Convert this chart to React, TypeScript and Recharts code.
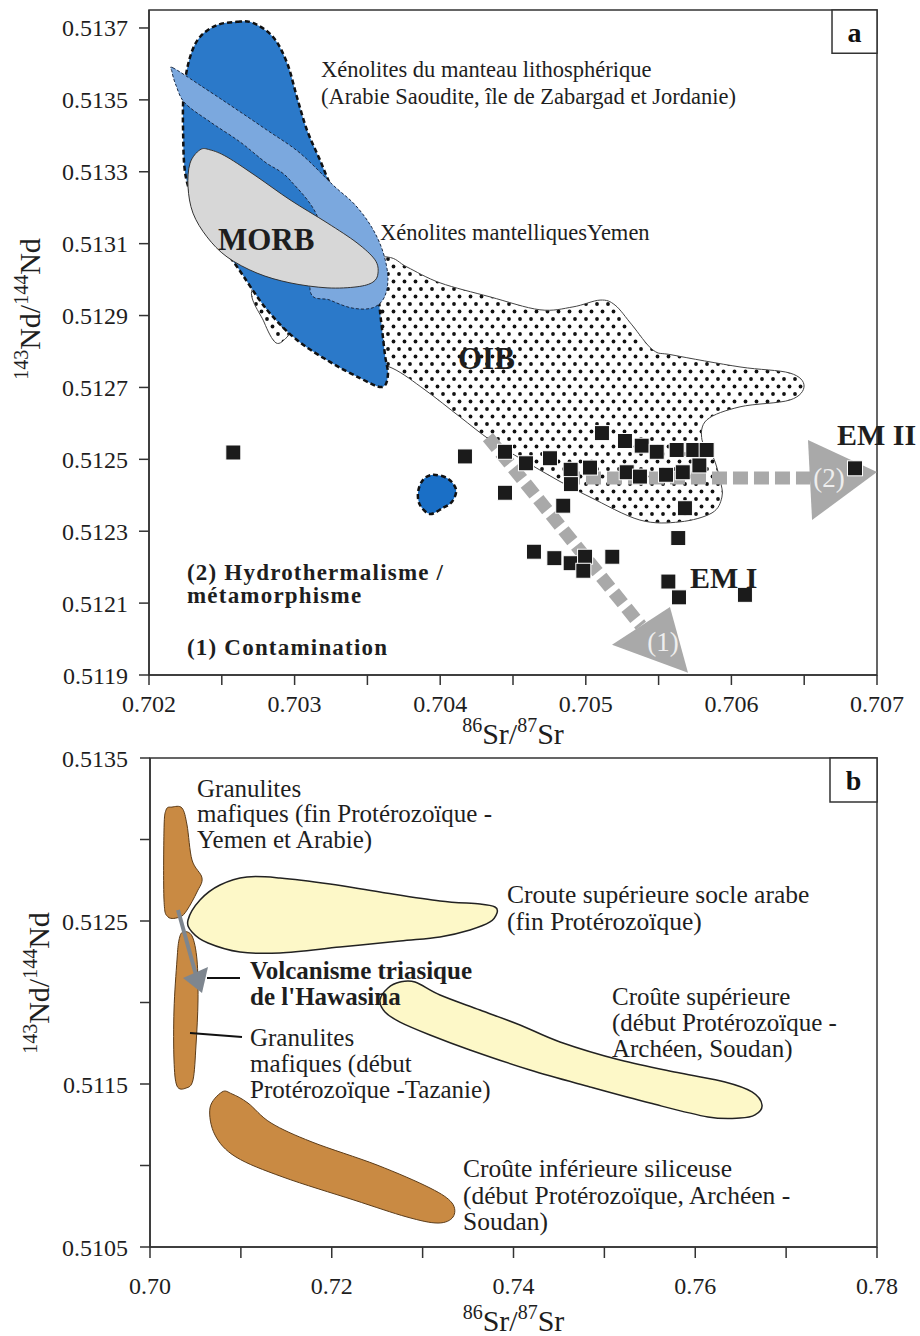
import React from 'react';
import { ScatterChart, Scatter, XAxis, YAxis, ReferenceArea, Label } from 'recharts';

const FONT = '"Liberation Serif", "Times New Roman", Times, serif';

// ================= Panel a =================
const aXTicks = [0.702, 0.7025, 0.703, 0.7035, 0.704, 0.7045, 0.705, 0.7055, 0.706, 0.7065, 0.707];
const aYTicks = [0.5119, 0.5121, 0.5123, 0.5125, 0.5127, 0.5129, 0.5131, 0.5133, 0.5135, 0.5137];
const aXDomain = [0.702, 0.707];
const aYDomain = [0.5119, 0.51375];

// Samples (Hawasina volcanics)
const sampleSr = [
  0.702579, 0.70417, 0.704445, 0.704589, 0.704754, 0.704896, 0.704898, 0.705029, 0.705111, 0.704445,
  0.704845, 0.705269, 0.705384, 0.705487, 0.705624, 0.705738, 0.70583, 0.705281, 0.705372, 0.705551,
  0.705666, 0.70578, 0.705681, 0.705635, 0.704644, 0.704784, 0.704896, 0.704995, 0.704983, 0.705182,
  0.705567, 0.70564, 0.706093, 0.706849,
];
const sampleNd = [
  0.512519, 0.512508, 0.512521, 0.512489, 0.512503, 0.512471, 0.512431, 0.512477, 0.512573, 0.512407,
  0.512371, 0.512551, 0.512538, 0.512521, 0.512526, 0.512526, 0.512526, 0.512464, 0.512452, 0.512457,
  0.512464, 0.512483, 0.512364, 0.512281, 0.512243, 0.512225, 0.512211, 0.512229, 0.51219, 0.512229,
  0.51216, 0.512116, 0.512123, 0.512475,
];

// Field outlines [Sr, Nd]
const lithoField = [
  [0.702604, 0.513717], [0.702714, 0.513714], [0.702852, 0.513675], [0.702948, 0.513603], [0.703016, 0.513508],
  [0.703085, 0.513416], [0.703174, 0.513333], [0.703264, 0.513249], [0.70338, 0.51318], [0.703484, 0.513096],
  [0.703559, 0.512999], [0.703593, 0.512888], [0.703621, 0.51279], [0.703641, 0.512735], [0.7036, 0.512701],
  [0.703449, 0.512726], [0.703243, 0.512771], [0.703016, 0.512832], [0.70281, 0.512916], [0.702611, 0.513032],
  [0.702522, 0.513082], [0.70235, 0.513188], [0.702254, 0.513283], [0.702234, 0.513416], [0.70224, 0.513528],
  [0.702282, 0.513619], [0.70235, 0.513675], [0.702467, 0.513708],
];
const yemenField = [
  [0.702165, 0.513589], [0.70235, 0.513541], [0.702577, 0.51348], [0.70281, 0.513416], [0.703037, 0.513352],
  [0.703264, 0.513263], [0.703415, 0.513208], [0.703532, 0.513144], [0.703607, 0.513077], [0.703641, 0.513005],
  [0.703614, 0.512949], [0.703532, 0.512921], [0.703394, 0.512921], [0.703243, 0.512943], [0.703106, 0.512971],
  [0.703174, 0.513152], [0.702968, 0.513277], [0.702797, 0.513327], [0.702625, 0.513383], [0.702419, 0.513439],
  [0.702247, 0.513491], [0.702185, 0.513541], [0.702158, 0.513578],
];
const morbField = [
  [0.70235, 0.513361], [0.702282, 0.513324], [0.702268, 0.513258], [0.702302, 0.513185], [0.702398, 0.513119],
  [0.702536, 0.513063], [0.702742, 0.513018], [0.702968, 0.512991], [0.703223, 0.512977], [0.703429, 0.51298],
  [0.703538, 0.512993], [0.703573, 0.513018], [0.703552, 0.513055], [0.703429, 0.513102], [0.703223, 0.513158],
  [0.702968, 0.513222], [0.702742, 0.513286], [0.702536, 0.513341], [0.702419, 0.513361],
];
const oibField = [
  [0.702714, 0.512977], [0.703037, 0.513032], [0.703346, 0.513055], [0.703635, 0.513063], [0.703772, 0.513035],
  [0.703999, 0.512991], [0.704342, 0.512952], [0.704685, 0.512916], [0.704912, 0.512924], [0.705098, 0.512943],
  [0.705201, 0.512929], [0.705317, 0.512874], [0.705462, 0.512804], [0.705599, 0.51279], [0.706059, 0.512757],
  [0.706402, 0.51274], [0.706499, 0.512704], [0.706402, 0.512665], [0.706059, 0.512646], [0.705832, 0.51261],
  [0.705798, 0.512554], [0.705874, 0.512507], [0.705922, 0.512443], [0.705935, 0.512395], [0.705867, 0.512351],
  [0.705647, 0.512326], [0.705372, 0.512331], [0.705029, 0.512395], [0.704802, 0.512443], [0.704569, 0.512498],
  [0.704342, 0.512554], [0.704136, 0.512618], [0.703896, 0.512693], [0.703669, 0.512754], [0.703449, 0.512777],
  [0.703243, 0.512799], [0.703037, 0.512846], [0.702989, 0.512866], [0.702948, 0.51284], [0.702872, 0.512824],
  [0.70279, 0.512882],
];
const blobField = [
  [0.703951, 0.512457], [0.704054, 0.512446], [0.704109, 0.512415], [0.704081, 0.512382], [0.704019, 0.512365],
  [0.70393, 0.512348], [0.703861, 0.512373], [0.703848, 0.512409], [0.703882, 0.512443],
];
const arrow1Line = [[0.704328, 0.512562], [0.705379, 0.512037]];
const arrow1Head = [[0.70518, 0.511984], [0.705578, 0.512089], [0.705702, 0.511906]];
const arrow2Line = [[0.704857, 0.512448], [0.70654, 0.512448]];
const arrow2Head = [[0.706526, 0.512554], [0.707, 0.512465], [0.706554, 0.512331]];

const annotationsA = [
  { id: 'lith', x: 0.703181, y: 0.513564, lines: ['Xénolites du manteau lithosphérique', '(Arabie Saoudite, île de Zabargad et Jordanie)'] },
  { id: 'yem', x: 0.703587, y: 0.51311, lines: ['Xénolites mantelliquesYemen'] },
  { id: 'morb', x: 0.702474, y: 0.513082, lines: ['MORB'] },
  { id: 'oib', x: 0.704122, y: 0.512751, lines: ['OIB'] },
  { id: 'em2', x: 0.706725, y: 0.51254, lines: ['EM II'] },
  { id: 'em1', x: 0.705716, y: 0.512142, lines: ['EM I'] },
  { id: 'hyd', x: 0.702261, y: 0.512165, lines: ['(2) Hydrothermalisme /', 'métamorphisme'] },
  { id: 'con', x: 0.702261, y: 0.511956, lines: ['(1) Contamination'] },
  { id: 'a1', x: 0.70553, y: 0.511967, lines: ['(1)'] },
  { id: 'a2', x: 0.70667, y: 0.512423, lines: ['(2)'] },
];

// ================= Panel b =================
const bXTicks = [0.7, 0.71, 0.72, 0.73, 0.74, 0.75, 0.76, 0.77, 0.78];
const bYTicks = [0.5105, 0.511, 0.5115, 0.512, 0.5125, 0.513, 0.5135];
const bXDomain = [0.7, 0.78];
const bYDomain = [0.5105, 0.5135];

const granulUpper = [
  [0.701761, 0.513181], [0.702421, 0.513199], [0.703521, 0.513193], [0.704072, 0.513089], [0.704622, 0.512874],
  [0.705722, 0.512764], [0.705172, 0.512678], [0.704072, 0.512567], [0.703301, 0.512525], [0.701981, 0.512525],
  [0.701541, 0.512629], [0.701541, 0.513058],
];
const granulLower = [
  [0.703631, 0.512433], [0.704622, 0.512408], [0.705172, 0.512261], [0.705282, 0.512015], [0.705062, 0.511739],
  [0.704732, 0.511525], [0.703961, 0.511475], [0.702971, 0.511488], [0.702641, 0.511647], [0.702641, 0.511954],
  [0.702971, 0.512261], [0.703191, 0.512383],
];
const crustLower = [
  [0.707923, 0.511451], [0.709023, 0.511439], [0.710784, 0.511383], [0.713315, 0.511261], [0.717827, 0.511144],
  [0.724979, 0.511003], [0.730812, 0.510862], [0.733233, 0.51077], [0.733343, 0.510684], [0.731692, 0.510647],
  [0.728281, 0.510684], [0.722448, 0.510788], [0.714635, 0.510929], [0.709464, 0.511052], [0.707153, 0.511187],
  [0.706602, 0.511353],
];
const crustArabian = [
  [0.704182, 0.512506], [0.705502, 0.512629], [0.707703, 0.512721], [0.710674, 0.51277], [0.714305, 0.512764],
  [0.719807, 0.512727], [0.725309, 0.512678], [0.731912, 0.512623], [0.736313, 0.512604], [0.737964, 0.512586],
  [0.738184, 0.512549], [0.737414, 0.512494], [0.735213, 0.512445], [0.731912, 0.512402], [0.72751, 0.512377],
  [0.720908, 0.51234], [0.714305, 0.512304], [0.709904, 0.51231], [0.706382, 0.512365], [0.704622, 0.512433],
];
const crustUpper = [
  [0.725309, 0.512015], [0.72619, 0.512089], [0.72751, 0.512126], [0.729161, 0.512126], [0.731912, 0.512046],
  [0.736313, 0.511954], [0.740715, 0.511862], [0.745117, 0.511758], [0.751719, 0.511647], [0.758322, 0.511567],
  [0.763274, 0.511512], [0.766245, 0.511451], [0.767345, 0.511371], [0.766575, 0.51131], [0.764924, 0.511291],
  [0.761403, 0.511298], [0.755021, 0.511383], [0.748418, 0.511482], [0.741816, 0.511586], [0.735213, 0.511709],
  [0.730812, 0.511801], [0.72751, 0.51188], [0.72586, 0.511942],
];
const arrowBLine = [[0.703081, 0.512567], [0.705062, 0.512169]];
const arrowBHead = [[0.703631, 0.51215], [0.706382, 0.512218], [0.705722, 0.512058]];
const leaderVolc = [[0.706272, 0.51215], [0.709904, 0.51215]];
const leaderGran = [[0.704402, 0.511813], [0.710124, 0.511788]];

const annotationsB = [
  { id: 'g1', x: 0.705172, y: 0.513261, lines: ['Granulites', 'mafiques (fin Protérozoïque -', 'Yemen et Arabie)'] },
  { id: 'ca', x: 0.739285, y: 0.51261, lines: ['Croute supérieure socle arabe', '(fin Protérozoïque)'] },
  { id: 'vt', x: 0.711004, y: 0.512144, lines: ['Volcanisme triasique', "de l'Hawasina"] },
  { id: 'cs', x: 0.750839, y: 0.511985, lines: ['Croûte supérieure', '(début Protérozoïque -', 'Archéen, Soudan)'] },
  { id: 'g2', x: 0.711004, y: 0.511733, lines: ['Granulites', 'mafiques (début', 'Protérozoïque -Tazanie)'] },
  { id: 'ci', x: 0.734443, y: 0.510929, lines: ['Croûte inférieure siliceuse', '(début Protérozoïque, Archéen -', 'Soudan)'] },
];

// ================= helpers =================
const toXY = (arr: number[][]) => arr.map(([x, y]) => ({ x, y }));
const samples = sampleSr.map((x, i) => ({ x, y: sampleNd[i] }));

type Pt = { x: number; y: number };
function smoothClosed(p: Pt[]) {
  if (!p || p.length < 3) return '';
  const n = p.length;
  let d = `M${p[0].x},${p[0].y}`;
  for (let i = 0; i < n; i++) {
    const p0 = p[(i - 1 + n) % n], p1 = p[i], p2 = p[(i + 1) % n], p3 = p[(i + 2) % n];
    d += `C${p1.x + (p2.x - p0.x) / 6},${p1.y + (p2.y - p0.y) / 6} ${p2.x - (p3.x - p1.x) / 6},${p2.y - (p3.y - p1.y) / 6} ${p2.x},${p2.y}`;
  }
  return d + 'Z';
}
function linearPath(p: Pt[], closed: boolean) {
  if (!p || p.length < 2) return '';
  return 'M' + p.map((q) => `${q.x},${q.y}`).join('L') + (closed ? 'Z' : '');
}

const hidden = () => <g />;
const polySmooth = (style: any) => (lp: any) => <path d={smoothClosed(lp.points)} {...style} />;
const polyLinear = (style: any) => (lp: any) => <path d={linearPath(lp.points, true)} {...style} />;
const segment = (style: any) => (lp: any) => <path d={linearPath(lp.points, false)} fill="none" {...style} />;
const oibLine = (lp: any) => (
  <g>
    <defs>
      <pattern id="oibDots" width="11" height="15" patternUnits="userSpaceOnUse">
        <rect width="11" height="15" fill="#ffffff" />
        <circle cx="3" cy="4" r="1.9" fill="#111" />
        <circle cx="8.5" cy="11.5" r="1.9" fill="#111" />
      </pattern>
    </defs>
    <path d={smoothClosed(lp.points)} fill="url(#oibDots)" stroke="#444" strokeWidth={1} />
  </g>
);
const squareShape = (p: any) => (
  <rect x={p.cx - 7.5} y={p.cy - 7.5} width={15} height={15} fill="#1b1b1b" stroke="#ffffff" strokeWidth={1} />
);

const textStyles: Record<string, any> = {
  lith: { size: 22.5, lh: 27 },
  yem: { size: 22.5 },
  morb: { size: 31, bold: true },
  oib: { size: 31, bold: true },
  em2: { size: 30, bold: true },
  em1: { size: 30, bold: true },
  hyd: { size: 23, bold: true, lh: 23.5, ls: 1.2 },
  con: { size: 23, bold: true, ls: 1.2 },
  a1: { size: 27, fill: '#eeeeee', anchor: 'middle' },
  a2: { size: 27, fill: '#eeeeee', anchor: 'middle' },
  g1: { size: 25, lh: 25.5 },
  ca: { size: 25.5, lh: 27 },
  vt: { size: 25, bold: true, lh: 26 },
  cs: { size: 25, lh: 26 },
  g2: { size: 25, lh: 26 },
  ci: { size: 25.5, lh: 26.5 },
};
const textShape = (p: any) => {
  const a = p.payload;
  const st = textStyles[a.id] || {};
  return (
    <text
      x={p.cx}
      y={p.cy}
      fontFamily={FONT}
      fontSize={st.size}
      fontWeight={st.bold ? 'bold' : 'normal'}
      fill={st.fill || '#1e1e1e'}
      textAnchor={st.anchor || 'start'}
      letterSpacing={st.ls || 0}
    >
      {a.lines.map((l: string, i: number) => (
        <tspan key={i} x={p.cx} dy={i === 0 ? 0 : st.lh}>
          {l}
        </tspan>
      ))}
    </text>
  );
};

const fmtAX = (v: number) => (Math.round(v * 2000) % 2 === 0 ? v.toFixed(3) : '');
const fmtAY = (v: number) => v.toFixed(4);
const fmtBX = (v: number) => (Math.round(v * 100) % 2 === 0 ? v.toFixed(2) : '');
const fmtBY = (v: number) => (Math.round(v * 10000) % 10 === 5 ? v.toFixed(4) : '');

const xTitle = (off: number) => (props: any) => {
  const vb = props.viewBox || { x: 0, y: 0, width: 0 };
  const cx = vb.x + vb.width / 2;
  const y = vb.y + off;
  return (
    <text x={cx} y={y} textAnchor="middle" fontFamily={FONT} fontSize={30} fill="#1e1e1e">
      <tspan fontSize={20} dy={-12}>86</tspan>
      <tspan dy={12}>Sr/</tspan>
      <tspan fontSize={20} dy={-12}>87</tspan>
      <tspan dy={12}>Sr</tspan>
    </text>
  );
};
const yTitle = (off: number, bx: number) => (props: any) => {
  const vb = props.viewBox || { y: 0 };
  const cy = vb.y + off;
  return (
    <text x={bx} y={cy} transform={`rotate(-90 ${bx} ${cy})`} textAnchor="middle" fontFamily={FONT} fontSize={30} fill="#1e1e1e">
      <tspan fontSize={20} dy={-12}>143</tspan>
      <tspan dy={12}>Nd/</tspan>
      <tspan fontSize={20} dy={-12}>144</tspan>
      <tspan dy={12}>Nd</tspan>
    </text>
  );
};

const axisStroke = { stroke: '#333', strokeWidth: 1.5 };
const tickStyle = { fill: '#1e1e1e', fontSize: 24, fontFamily: FONT };

const css = `.recharts-wrapper text, .recharts-surface text, .recharts-cartesian-axis-tick-value { font-family: "Liberation Serif", "Times New Roman", Times, serif !important; }`;

export default function App() {
  return (
    <div style={{ position: 'absolute', left: 0, top: 0, width: 920, height: 1336, background: '#fff', fontFamily: FONT }}>
      <style>{css}</style>
      <div style={{ position: 'absolute', left: 0, top: 0 }}>
        <ScatterChart width={920} height={756} margin={{ top: 10, right: 43, bottom: 21, left: 0 }} style={{ fontFamily: FONT }}>
          <XAxis
            type="number"
            dataKey="x"
            domain={aXDomain}
            ticks={aXTicks}
            interval={0}
            tickFormatter={fmtAX}
            height={60}
            tickSize={10}
            tickMargin={10}
            tick={tickStyle}
            axisLine={axisStroke}
            tickLine={axisStroke}
            label={<Label content={xTitle(69)} />}
          />
          <YAxis
            type="number"
            dataKey="y"
            domain={aYDomain}
            ticks={aYTicks}
            interval={0}
            tickFormatter={fmtAY}
            width={149}
            tickSize={10}
            tickMargin={11}
            tick={tickStyle}
            axisLine={axisStroke}
            tickLine={axisStroke}
            label={<Label content={yTitle(299, 40)} />}
          />
          <ReferenceArea x1={0.702} x2={0.707} y1={0.5119} y2={0.51375} fill="none" stroke="#333" strokeWidth={1.5} />
          <Scatter data={toXY(oibField)} shape={hidden} line={oibLine} isAnimationActive={false} />
          <Scatter data={toXY(lithoField)} shape={hidden} line={polySmooth({ fill: '#2b79c9', stroke: '#111', strokeWidth: 2.5, strokeDasharray: '5 3' })} isAnimationActive={false} />
          <Scatter data={toXY(yemenField)} shape={hidden} line={polySmooth({ fill: '#7ba8de', stroke: '#1a2a44', strokeWidth: 1, strokeDasharray: '3 2' })} isAnimationActive={false} />
          <Scatter data={toXY(morbField)} shape={hidden} line={polySmooth({ fill: '#d7d7d7', stroke: '#333', strokeWidth: 1 })} isAnimationActive={false} />
          <Scatter data={toXY(blobField)} shape={hidden} line={polySmooth({ fill: '#1a6fc6', stroke: '#111', strokeWidth: 2.5, strokeDasharray: '5 3' })} isAnimationActive={false} />
          <Scatter data={toXY(arrow1Line)} shape={hidden} line={segment({ stroke: '#a9a9a9', strokeWidth: 13, strokeDasharray: '14 6' })} isAnimationActive={false} />
          <Scatter data={toXY(arrow1Head)} shape={hidden} line={polyLinear({ fill: '#a9a9a9', stroke: 'none' })} isAnimationActive={false} />
          <Scatter data={toXY(arrow2Line)} shape={hidden} line={segment({ stroke: '#a9a9a9', strokeWidth: 13, strokeDasharray: '15 6' })} isAnimationActive={false} />
          <Scatter data={toXY(arrow2Head)} shape={hidden} line={polyLinear({ fill: '#a9a9a9', stroke: 'none' })} isAnimationActive={false} />
          <Scatter data={samples} shape={squareShape} isAnimationActive={false} />
          <Scatter data={annotationsA} shape={textShape} isAnimationActive={false} />
          <ReferenceArea
            x1={0.706691}
            x2={0.707}
            y1={0.51363}
            y2={0.51375}
            fill="#fff"
            fillOpacity={1}
            stroke="#333"
            strokeWidth={1.5}
            label={{ value: 'a', position: 'center', fontSize: 28, fontWeight: 'bold', fill: '#111', fontFamily: FONT }}
          />
        </ScatterChart>
      </div>
      <div style={{ position: 'absolute', left: 0, top: 740 }}>
        <ScatterChart width={920} height={596} margin={{ top: 18, right: 43, bottom: 29, left: 0 }} style={{ fontFamily: FONT }}>
          <XAxis
            type="number"
            dataKey="x"
            domain={bXDomain}
            ticks={bXTicks}
            interval={0}
            tickFormatter={fmtBX}
            height={60}
            tickSize={11}
            tickMargin={19}
            tick={tickStyle}
            axisLine={axisStroke}
            tickLine={axisStroke}
            label={<Label content={xTitle(84)} />}
          />
          <YAxis
            type="number"
            dataKey="y"
            domain={bYDomain}
            ticks={bYTicks}
            interval={0}
            tickFormatter={fmtBY}
            width={150}
            tickSize={10}
            tickMargin={12}
            tick={tickStyle}
            axisLine={axisStroke}
            tickLine={axisStroke}
            label={<Label content={yTitle(225, 49)} />}
          />
          <ReferenceArea x1={0.7} x2={0.78} y1={0.5105} y2={0.5135} fill="none" stroke="#333" strokeWidth={1.5} />
          <Scatter data={toXY(granulUpper)} shape={hidden} line={polySmooth({ fill: '#c98a43', stroke: '#5b3b18', strokeWidth: 1 })} isAnimationActive={false} />
          <Scatter data={toXY(granulLower)} shape={hidden} line={polySmooth({ fill: '#c98a43', stroke: '#5b3b18', strokeWidth: 1 })} isAnimationActive={false} />
          <Scatter data={toXY(crustLower)} shape={hidden} line={polySmooth({ fill: '#c98a43', stroke: '#5b3b18', strokeWidth: 1 })} isAnimationActive={false} />
          <Scatter data={toXY(crustArabian)} shape={hidden} line={polySmooth({ fill: '#fdf8c8', stroke: '#222', strokeWidth: 1.5 })} isAnimationActive={false} />
          <Scatter data={toXY(crustUpper)} shape={hidden} line={polySmooth({ fill: '#fdf8c8', stroke: '#222', strokeWidth: 1.5 })} isAnimationActive={false} />
          <Scatter data={toXY(arrowBLine)} shape={hidden} line={segment({ stroke: '#7e868f', strokeWidth: 4 })} isAnimationActive={false} />
          <Scatter data={toXY(arrowBHead)} shape={hidden} line={polyLinear({ fill: '#7e868f', stroke: 'none' })} isAnimationActive={false} />
          <Scatter data={toXY(leaderVolc)} shape={hidden} line={segment({ stroke: '#111', strokeWidth: 2 })} isAnimationActive={false} />
          <Scatter data={toXY(leaderGran)} shape={hidden} line={segment({ stroke: '#111', strokeWidth: 2 })} isAnimationActive={false} />
          <Scatter data={annotationsB} shape={textShape} isAnimationActive={false} />
          <ReferenceArea
            x1={0.774828}
            x2={0.78}
            y1={0.51323}
            y2={0.5135}
            fill="#fff"
            fillOpacity={1}
            stroke="#333"
            strokeWidth={1.5}
            label={{ value: 'b', position: 'center', fontSize: 28, fontWeight: 'bold', fill: '#111', fontFamily: FONT }}
          />
        </ScatterChart>
      </div>
    </div>
  );
}
